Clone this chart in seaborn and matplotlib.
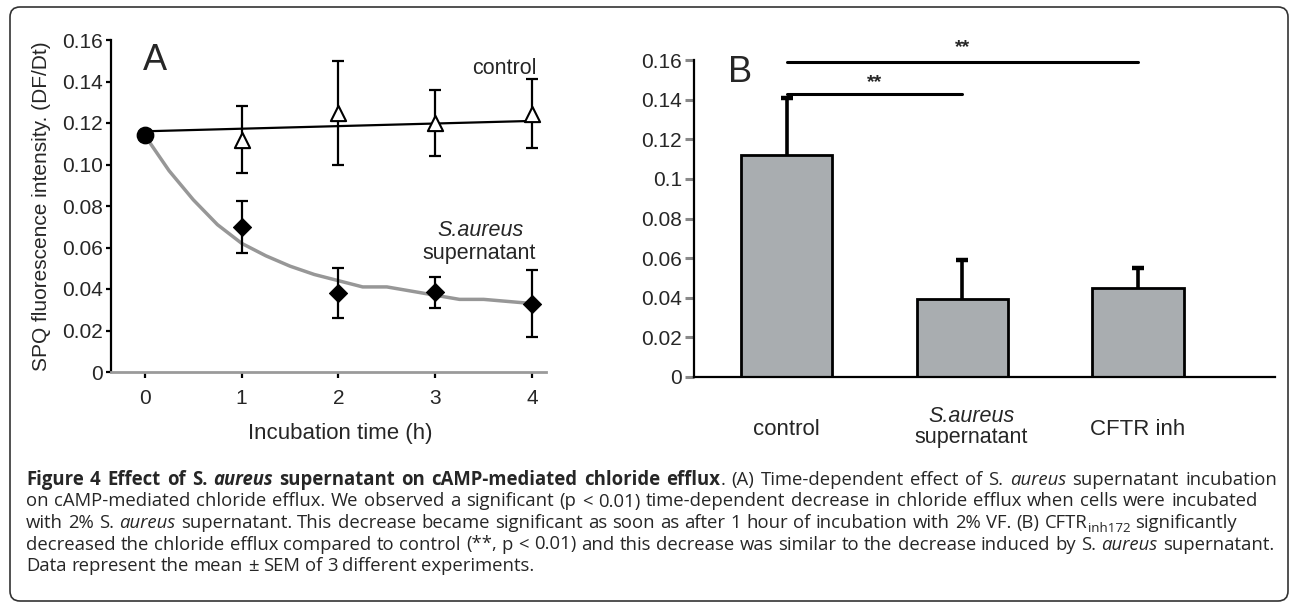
import numpy as np
import pandas as pd
import matplotlib
matplotlib.use('Agg')
import matplotlib.pyplot as plt
import seaborn as sns
from matplotlib.patches import FancyBboxPatch
from matplotlib.font_manager import FontProperties

sns.set_style('ticks')
plt.rcParams['font.family'] = ['Liberation Sans', 'DejaVu Sans']

# Panel A: chloride efflux over incubation time
hours = [0, 1, 2, 3, 4]
control_mean = [0.114, 0.112, 0.125, 0.120, 0.1245]
control_sem = [0, 0.016, 0.025, 0.016, 0.0165]
saureus_mean = [0.114, 0.070, 0.038, 0.0385, 0.033]
saureus_sem = [0, 0.0125, 0.012, 0.0075, 0.016]

# fitted lines
control_fit_x = [0, 4]
control_fit_y = [0.116, 0.121]
saureus_fit_x = [0, 0.25, 0.5, 0.75, 1, 1.25, 1.5, 1.75, 2, 2.25, 2.5, 2.75, 3, 3.25, 3.5, 3.75, 4]
saureus_fit_y = [0.114, 0.097, 0.083, 0.071, 0.062, 0.056, 0.051, 0.047, 0.044, 0.041, 0.041, 0.039,
                 0.037, 0.035, 0.035, 0.034, 0.033]

a_yticks = [0, 0.02, 0.04, 0.06, 0.08, 0.10, 0.12, 0.14, 0.16]
a_ylabels = ['0', '0.02', '0.04', '0.06', '0.08', '0.10', '0.12', '0.14', '0.16']

# Panel B: mean efflux per treatment
groups = ['control', 'S.aureus supernatant', 'CFTR inh']
bar_mean = [0.112, 0.0395, 0.045]
bar_sem = [0.029, 0.0195, 0.010]
b_ylabels = ['0', '0.02', '0.04', '0.06', '0.08', '0.1', '0.12', '0.14', '0.16']

W, H = 1290, 604
fig = plt.figure(figsize=(W / 100, H / 100), dpi=100)

def px_axes(left, top, right, bottom):
    return fig.add_axes([left / W, 1 - bottom / H, (right - left) / W, (bottom - top) / H])

# ---------------- Panel A ----------------
axA = px_axes(111, 40, 546, 372)
sns.lineplot(x=control_fit_x, y=control_fit_y, color='black', lw=1.6, ax=axA)
sns.lineplot(x=saureus_fit_x, y=saureus_fit_y, color='#979797', lw=2.5, ax=axA)
axA.errorbar(hours[1:], control_mean[1:], yerr=control_sem[1:], fmt='none', ecolor='black',
             elinewidth=1.6, capsize=4, capthick=1.6, zorder=3)
axA.errorbar(hours[1:], saureus_mean[1:], yerr=saureus_sem[1:], fmt='none', ecolor='black',
             elinewidth=1.6, capsize=4, capthick=1.6, zorder=3)
sns.scatterplot(x=hours[1:], y=control_mean[1:], marker='^', s=120, facecolor='white',
                edgecolor='black', linewidth=1.5, zorder=5, ax=axA)
sns.scatterplot(x=hours[1:], y=saureus_mean[1:], marker='D', s=85, color='black',
                edgecolor='black', zorder=5, ax=axA)
sns.scatterplot(x=hours[:1], y=control_mean[:1], marker='o', s=140, color='black',
                edgecolor='black', zorder=6, ax=axA)

axA.set_xlim(-0.35, 4.144)
axA.set_ylim(0, 0.16)
axA.set_xticks(hours)
axA.set_xticklabels([str(h) for h in hours])
axA.set_yticks(a_yticks)
axA.set_yticklabels(a_ylabels)
for s in ['top', 'right']:
    axA.spines[s].set_visible(False)
axA.spines['left'].set_color('black')
axA.spines['left'].set_linewidth(1.6)
axA.spines['bottom'].set_color('#9a9a9a')
axA.spines['bottom'].set_linewidth(2)
axA.tick_params(axis='y', length=3.6, width=1.6, color='black', pad=2, labelsize=15)
axA.tick_params(axis='x', length=4.3, width=1.6, color='black', pad=8, labelsize=15)
axA.set_xlabel('Incubation time (h)', fontsize=16, va='center')
axA.xaxis.set_label_coords(0.526, -0.184)
axA.set_ylabel('SPQ fluorescence intensity. (DF/Dt)', fontsize=15, va='center')
axA.yaxis.set_label_coords(-0.159, 0.5)

axA.text(0.10, 0.150, 'A', fontsize=26, ha='center', va='center')
axA.text(4.05, 0.1465, 'control', fontsize=15.5, ha='right', va='center')
axA.text(3.47, 0.0684, 'S.aureus', fontsize=15.5, ha='center', va='center', style='italic')
axA.text(3.45, 0.0573, 'supernatant', fontsize=15.5, ha='center', va='center')

# ---------------- Panel B ----------------
axB = px_axes(694, 60, 1275, 377)
bars = pd.DataFrame({'group': groups, 'mean': bar_mean})
sns.barplot(data=bars, x='group', y='mean', color='#a9adb0', saturation=1, edgecolor='black',
            linewidth=2, width=0.52, ax=axB)
pos = np.arange(len(groups))
tops = np.add(bar_mean, bar_sem)
axB.vlines(pos, bar_mean, tops, color='black', lw=2.6)
axB.plot(pos, tops, linestyle='none', marker='_', ms=8, mew=3.2, color='black')

axB.set_xlim(-0.527, 2.779)
axB.set_ylim(0, 0.16)
axB.set_yticks(a_yticks)
axB.set_yticklabels(b_ylabels)
axB.set_xticks(pos)
axB.set_xticklabels([''] * len(groups))
axB.set_xlabel('')
axB.set_ylabel('')
for s in ['top', 'right']:
    axB.spines[s].set_visible(False)
for s in ['left', 'bottom']:
    axB.spines[s].set_color('black')
    axB.spines[s].set_linewidth(1.6)
axB.tick_params(axis='y', length=6.5, width=2.2, color='#8a8a8a', pad=2, labelsize=15)
axB.tick_params(axis='x', length=0)

xt = axB.get_xaxis_transform()
axB.text(0, -0.167, 'control', transform=xt, fontsize=16, ha='center', va='center')
axB.text(1.05, -0.126, 'S.aureus', transform=xt, fontsize=15.5, ha='center', va='center', style='italic')
axB.text(1.05, -0.192, 'supernatant', transform=xt, fontsize=15.5, ha='center', va='center')
axB.text(2, -0.167, 'CFTR inh', transform=xt, fontsize=16, ha='center', va='center')

axB.text(0.079, 0.1535, 'B', transform=axB.get_yaxis_transform(), fontsize=26, ha='center', va='center')
axB.plot([0, 2], [0.159, 0.159], color='black', lw=2.2, clip_on=False)
axB.plot([0, 1], [0.143, 0.143], color='black', lw=2.2, clip_on=False)
axB.text(1.0, 0.1665, '**', fontsize=14, fontweight='bold', ha='center', va='center')
axB.text(0.5, 0.1485, '**', fontsize=14, fontweight='bold', ha='center', va='center')

# ---------------- frame and caption ----------------
frame = FancyBboxPatch((10 / 100, (H - 601) / 100), (1288 - 10) / 100, (601 - 7) / 100,
                       boxstyle='round,pad=0,rounding_size=0.1', transform=fig.dpi_scale_trans,
                       fill=False, ec='#333333', lw=1.2)
fig.patches.append(frame)

renderer = fig.canvas.get_renderer()

def fprops(size, weight='normal', style='normal'):
    return FontProperties(family=['Open Sans', 'DejaVu Sans'], size=size, weight=weight, style=style)

def text_width(s, fp):
    t = fig.text(0, 0, s, fontproperties=fp)
    w = t.get_window_extent(renderer).width
    t.remove()
    return w

def split_words(runs):
    words, cur = [], []
    for text, fp, dy in runs:
        for i, p in enumerate(text.split(' ')):
            if i > 0 and cur:
                words.append(cur)
                cur = []
            if p:
                cur.append((p, fp, dy))
    if cur:
        words.append(cur)
    return words

def line_width(runs):
    words = split_words(runs)
    fp = runs[0][1]
    sp = text_width('a a', fp) - text_width('aa', fp)
    total = sum(text_width(p, f) for w in words for p, f, d in w)
    return total + sp * (len(words) - 1)

def draw_line(runs, x0, baseline, right=None):
    words = split_words(runs)
    widths = [[text_width(p, f) for p, f, d in w] for w in words]
    fp = runs[0][1]
    gap = text_width('a a', fp) - text_width('aa', fp)
    if right is not None and len(words) > 1:
        gap = (right - x0 - sum(sum(w) for w in widths)) / (len(words) - 1)
    x = x0
    for w, ws in zip(words, widths):
        for (p, f, dy), pw in zip(w, ws):
            fig.text(x / W, 1 - (baseline + dy) / H, p, fontproperties=f, ha='left', va='baseline')
            x += pw
        x += gap

base = 10
last_runs = [('Data represent the mean \u00b1 SEM of 3 different experiments.', fprops(base), 0)]
size = base * 511 / line_width(last_runs)

rg = fprops(size)
it = fprops(size, style='italic')
bd = fprops(size, weight='bold')
bi = fprops(size, weight='bold', style='italic')
sub = fprops(size * 0.72)

caption = [
    ([('Figure 4 Effect of S. ', bd, 0), ('aureus', bi, 0),
      (' supernatant on cAMP-mediated chloride efflux', bd, 0),
      ('. (A) Time-dependent effect of S. ', rg, 0), ('aureus', it, 0),
      (' supernatant incubation', rg, 0)], 1277),
    ([('on cAMP-mediated chloride efflux. We observed a significant (p < 0.01) time-dependent '
       'decrease in chloride efflux when cells were incubated', rg, 0)], 1258),
    ([('with 2% S. ', rg, 0), ('aureus', it, 0),
      (' supernatant. This decrease became significant as soon as after 1 hour of incubation '
       'with 2% VF. (B) CFTR', rg, 0), ('inh172', sub, 3.5), (' significantly', rg, 0)], 1237),
    ([('decreased the chloride efflux compared to control (**, p < 0.01) and this decrease was '
       'similar to the decrease induced by S. ', rg, 0), ('aureus', it, 0),
      (' supernatant.', rg, 0)], 1274),
    ([('Data represent the mean \u00b1 SEM of 3 different experiments.', rg, 0)], None),
]
baselines = [485, 506.5, 528, 549.5, 571]
for (runs, right), y in zip(caption, baselines):
    draw_line(runs, 26, y, right)

fig.savefig('out.png', dpi=100)
